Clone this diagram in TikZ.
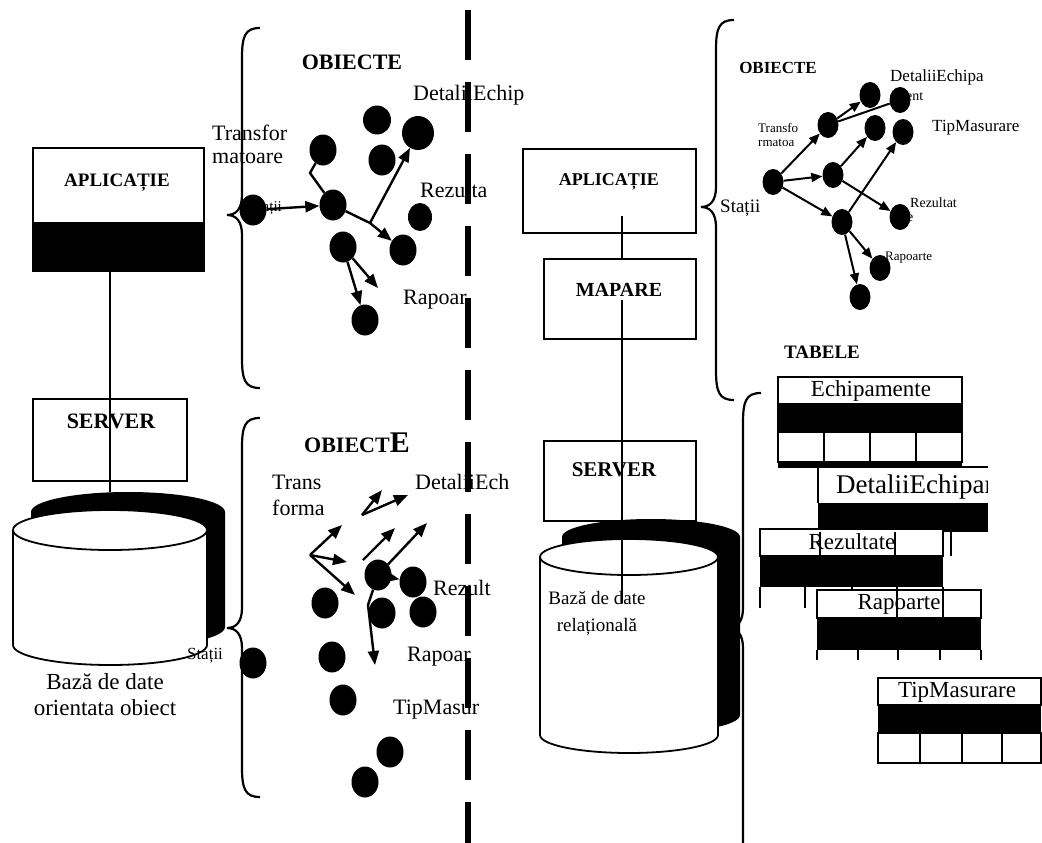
\documentclass[tikz,border=0pt]{standalone}
\usepackage{fontspec}
\setmainfont{Liberation Serif}
\usetikzlibrary{arrows.meta,shapes.geometric}

% left-pointing curly brace: #1 = x of the stem, #2 = top y, #3 = tip y, #4 = bottom y
\newcommand\bracepath[4]{%
  \draw[brace] (#1+18,#2) .. controls (#1+3,#2) and (#1,#2+8) .. (#1,#2+30)
    -- (#1,#3-20) .. controls (#1,#3-6) and (#1-6,#3) .. (#1-15,#3)
    .. controls (#1-6,#3) and (#1,#3+6) .. (#1,#3+20)
    -- (#1,#4-30) .. controls (#1,#4-8) and (#1+3,#4) .. (#1+18,#4);}

\begin{document}
\begin{tikzpicture}[x=1pt,y=-1pt,
  box/.style={draw, line width=1.8pt, inner sep=0pt, anchor=north west},
  blob/.style={ellipse, fill=black, inner sep=0pt, minimum width=27pt, minimum height=31pt},
  sblob/.style={ellipse, fill=black, inner sep=0pt, minimum width=21pt, minimum height=26pt},
  arr/.style={line width=2.4pt, -{Triangle[length=14pt,width=11pt]}},
  sarr/.style={line width=2pt, -{Triangle[length=11pt,width=9pt]}},
  conn/.style={line width=1.8pt},
  brace/.style={line width=2.2pt},
  tb/.style={line width=1.6pt},
  lbl/.style={anchor=west, inner sep=0pt, font=\fontsize{22}{24}\selectfont},
  slbl/.style={anchor=west, inner sep=0pt, font=\fontsize{14}{16}\selectfont},
  head/.style={inner sep=0pt, font=\bfseries\fontsize{19}{22}\selectfont},
  tbl/.style={inner sep=0pt, font=\fontsize{23}{25}\selectfont},
  cyl/.style={line width=1.8pt}
]
\useasboundingbox (0,0) rectangle (1042,843);
\clip (0,0) rectangle (1042,843);

% ---------------- left column: object database ----------------
\node[box, minimum width=171pt, minimum height=123pt] (appL) at (32,147) {};
\fill (32,222) rectangle (203,270);
\node[head] (appLt) at (117,183) {APLICAȚIE};
\node[box, minimum width=154pt, minimum height=82pt] (srvL) at (32,398) {};
\node[head, font=\bfseries\fontsize{22}{24}\selectfont] (srvLt) at (111,421) {SERVER};
\coordinate (aL) at (110,270);
\coordinate (sLn) at (110,398);
\coordinate (dbLtop) at (110,492);
\draw[conn] (aL) -- (sLn);
\draw[conn] (sLn) -- (dbLtop);
% database cylinder with its dark shadow
\fill (31,512) -- (31,627) arc[start angle=180,end angle=0,x radius=97,y radius=20]
  -- (225,512) arc[start angle=0,end angle=-180,x radius=97,y radius=20] -- cycle;
\filldraw[cyl, fill=white] (13,530) -- (13,645) arc[start angle=180,end angle=0,x radius=97,y radius=20]
  -- (207,530) arc[start angle=0,end angle=-180,x radius=97,y radius=20] -- cycle;
\draw[cyl] (13,530) arc[start angle=180,end angle=0,x radius=97,y radius=20];
\node[font=\fontsize{23}{26}\selectfont, align=center, inner sep=0pt] (dbLt) at (105,695) {Bază de date\\orientata obiect};
\node[font=\fontsize{17}{18}\selectfont, inner sep=0pt] (stL2) at (205,656) {Stații};

% ---------------- right column: relational database ----------------
\node[box, minimum width=173pt, minimum height=84pt] (appR) at (522,148) {};
\node[head, font=\bfseries\fontsize{18}{20}\selectfont] (appRt) at (609,182) {APLICAȚIE};
\node[box, minimum width=152pt, minimum height=80pt] (mapR) at (543,258) {};
\node[head, font=\bfseries\fontsize{20}{22}\selectfont] (mapRt) at (619,290) {MAPARE};
\node[box, minimum width=152pt, minimum height=80pt] (srvR) at (543,440) {};
\node[head, font=\bfseries\fontsize{21}{23}\selectfont] (srvRt) at (614,470) {SERVER};
\fill (562,537) -- (562,715) arc[start angle=180,end angle=0,x radius=89,y radius=18]
  -- (740,537) arc[start angle=0,end angle=-180,x radius=89,y radius=18] -- cycle;
\filldraw[cyl, fill=white] (540,557) -- (540,735) arc[start angle=180,end angle=0,x radius=89,y radius=18]
  -- (718,557) arc[start angle=0,end angle=-180,x radius=89,y radius=18] -- cycle;
\draw[cyl] (540,557) arc[start angle=180,end angle=0,x radius=89,y radius=18];
\node[font=\fontsize{19}{27}\selectfont, align=center, inner sep=0pt] (dbRt) at (597,613) {Bază de date\\relațională};
\coordinate (rA) at (622,216);
\coordinate (rB) at (622,300);
\coordinate (rC) at (622,603);
\draw[conn] (rA) -- (rA |- mapR.north);
\draw[conn] (rB) -- (rC);
\node[lbl, font=\fontsize{19}{20}\selectfont] (stR) at (720,208) {Stații};

% ---------------- braces ----------------
\bracepath{242}{28}{215}{388}
\bracepath{242}{418}{628}{797}
\bracepath{716}{20}{207}{400}
\bracepath{743}{393}{628}{870}

% ---------------- objects, upper left ----------------
\node[head, font=\bfseries\fontsize{22}{24}\selectfont] (objUL) at (352,62) {OBIECTE};
\node[lbl] (uDet) at (413,95) {DetaliiEchip};
\node[lbl] (uTr1) at (212,133) {Transfor};
\node[lbl] (uTr2) at (212,157) {matoare};
\node[lbl] (uRez) at (420,190) {Rezulta};
\node[lbl] (uRap) at (403,300) {Rapoar};
\node[slbl, font=\fontsize{15}{16}\selectfont] (uSt) at (250,208) {Stații};
\node[blob] (ua) at (323,150) {};
\node[blob, minimum width=28pt, minimum height=29pt] (ub) at (377,120) {};
\node[blob, minimum width=32pt, minimum height=34pt] (uc) at (418,133) {};
\node[blob] (ud) at (382,160) {};
\node[blob] (ue) at (253,210) {};
\node[blob] (uf) at (333,205) {};
\node[blob, minimum width=24pt, minimum height=28pt] (ug) at (420,217) {};
\node[blob] (uh) at (403,250) {};
\node[blob] (ui) at (343,247) {};
\node[blob] (uj) at (365,320) {};
\coordinate (uk) at (310,173);
\coordinate (um) at (370,223);
\coordinate (un) at (378,288);
\draw[arr] (ue) -- (uf);
\draw[line width=2.4pt] (ua) -- (uk) -- (uf);
\draw[line width=2.4pt] (uf) -- (um);
\draw[arr] (um) -- (uh);
\draw[arr] (um) -- (uc);
\draw[arr] (ui) -- (un);
\draw[arr] (ui) -- (uj);

% ---------------- objects, lower left ----------------
\node[head, font=\bfseries\fontsize{22}{24}\selectfont] (objLL) at (357,443) {OBIECT{\fontsize{30}{30}\selectfont E}};
\node[lbl] (lTr1) at (272,482) {Trans};
\node[lbl] (lTr2) at (272,508) {forma};
\node[lbl] (lDet) at (415,482) {DetaliiEch};
\node[lbl] (lRez) at (433,588) {Rezult};
\node[lbl] (lRap) at (407,657) {Rapoar};
\node[lbl] (lTip) at (393,710) {TipMasur};
\node[blob] (la) at (378,575) {};
\node[blob] (lb) at (413,582) {};
\node[blob] (lc) at (325,603) {};
\node[blob] (ld) at (382,613) {};
\node[blob] (le) at (423,612) {};
\node[blob] (lf) at (332,657) {};
\node[blob] (lg) at (343,700) {};
\node[blob] (lh) at (390,752) {};
\node[blob] (li) at (365,782) {};
\node[blob] (ls) at (253,663) {};
\coordinate (lo1) at (362,515);
\coordinate (lt1) at (382,490);
\coordinate (lt2) at (408,495);
\coordinate (lo2) at (310,555);
\coordinate (lt3) at (342,525);
\coordinate (lt4) at (347,562);
\coordinate (lt5) at (355,595);
\coordinate (lo3) at (363,560);
\coordinate (lt6) at (395,528);
\coordinate (lt7) at (427,523);
\coordinate (lk) at (368,605);
\coordinate (lt8) at (375,665);
\draw[arr] (lo1) -- (lt1);
\draw[arr] (lo1) -- (lt2);
\draw[arr] (lo2) -- (lt3);
\draw[arr] (lo2) -- (lt4);
\draw[arr] (lo2) -- (lt5);
\draw[arr] (lo3) -- (lt6);
\draw[arr] (la) -- (lt7);
\draw[arr] (la) -- (lb);
\draw[line width=2.4pt] (la) -- (lk);
\draw[arr] (lk) -- (lt8);

% ---------------- objects, upper right ----------------
\node[head, font=\bfseries\fontsize{17}{19}\selectfont] (objUR) at (778,68) {OBIECTE};
\node[slbl, font=\fontsize{17}{18}\selectfont] (rDet) at (890,77) {DetaliiEchipa};
\node[slbl] (rDet2) at (895,97) {ment};
\node[slbl, font=\fontsize{13}{14}\selectfont] (rTr1) at (758,128) {Transfo};
\node[slbl, font=\fontsize{13}{14}\selectfont] (rTr2) at (758,143) {rmatoa};
\node[slbl, font=\fontsize{17}{18}\selectfont] (rTip) at (932,128) {TipMasurare};
\node[slbl] (rRez) at (910,203) {Rezultat};
\node[slbl] (rRez2) at (907,218) {e};
\node[slbl, font=\fontsize{13}{14}\selectfont] (rRap) at (885,258) {Rapoarte};
\node[sblob] (r1) at (773,182) {};
\node[sblob] (r2) at (828,125) {};
\node[sblob] (r3) at (870,95) {};
\node[sblob] (r4) at (900,100) {};
\node[sblob] (r5) at (875,128) {};
\node[sblob] (r6) at (903,132) {};
\node[sblob] (r7) at (833,175) {};
\node[sblob] (r8) at (842,222) {};
\node[sblob] (r9) at (900,217) {};
\node[sblob] (r10) at (880,268) {};
\node[sblob] (r11) at (860,297) {};
\draw[sarr] (r1) -- (r2);
\draw[sarr] (r1) -- (r7);
\draw[sarr] (r1) -- (r8);
\draw[sarr] (r2) -- (r3);
\draw[line width=2pt] (r2) -- (r4);
\draw[sarr] (r7) -- (r5);
\draw[sarr] (r7) -- (r9);
\draw[sarr] (r8) -- (r6);
\draw[sarr] (r8) -- (r10);
\draw[sarr] (r8) -- (r11);

% ---------------- tables ----------------
\node[head] (tabT) at (822,352) {TABELE};
% Echipamente
\draw[tb] (778,377) rectangle (962,462);
\fill (778,403) rectangle (962,433);
\foreach \x in {824,870,916} \draw[tb] (\x,433) -- (\x,462);
\fill (778,461) rectangle (962,468);
\node[tbl] (tEch) at (871,391) {Echipamente};
% DetaliiEchipament
\fill[white] (818,469) rectangle (988,503);
\draw[tb] (962,467) -- (988,467);
\draw[tb] (818,468) -- (818,503);
\fill (818,503) rectangle (988,532);
\begin{scope}
  \clip (818,468) rectangle (987,503);
  \node[tbl, anchor=west, font=\fontsize{27}{29}\selectfont] (tDet) at (836,487) {DetaliiEchipament};
\end{scope}
% Rezultate
\filldraw[tb, fill=white] (760,529) rectangle (943,556);
\fill (760,556) rectangle (943,587);
\node[tbl] (tRez) at (852,542) {Rezultate};
\foreach \x in {820,895,951} \draw[tb] (\x,532) -- (\x,556);
\foreach \x in {760,805,852,897,943} \draw[tb] (\x,587) -- (\x,608);
% Rapoarte
\filldraw[tb, fill=white] (817,590) rectangle (981,618);
\fill (817,618) rectangle (981,650);
\node[tbl] (tRap) at (899,604) {Rapoarte};
\foreach \x in {897,943} \draw[tb] (\x,590) -- (\x,618);
\foreach \x in {817,858,898,940,981} \draw[tb] (\x,650) -- (\x,660);
% TipMasurare
\filldraw[tb, fill=white] (878,678) rectangle (1041,705);
\fill (878,705) rectangle (1041,733);
\draw[tb] (878,733) rectangle (1041,763);
\foreach \x in {920,962,1002} \draw[tb] (\x,733) -- (\x,763);
\node[tbl] (tTip) at (957,692) {TipMasurare};

% ---------------- dividing line ----------------
\draw[line width=6pt, dash pattern=on 50pt off 22pt] (468,10) -- (468,843);
\end{tikzpicture}
\end{document}
